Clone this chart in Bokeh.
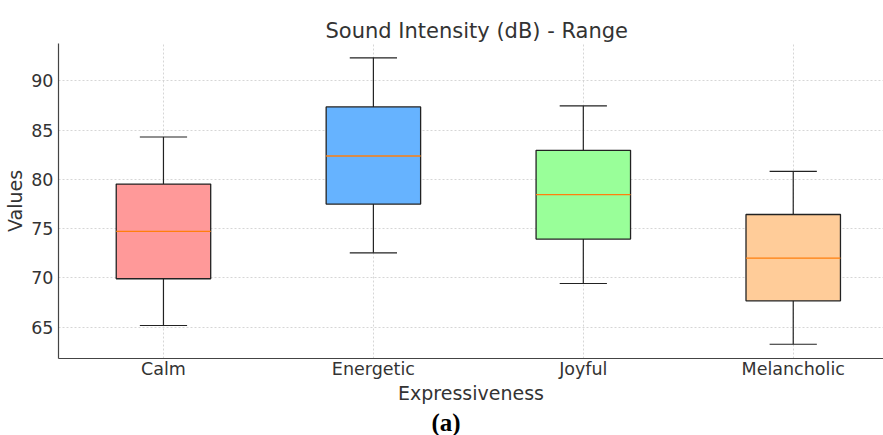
from bokeh.plotting import figure
from bokeh.models import Range1d, FixedTicker, Title, ColumnDataSource
from bokeh.embed import file_html
from bokeh.resources import INLINE

# ---- data ----
categories = ["Calm", "Energetic", "Joyful", "Melancholic"]
lower = [65.15, 72.54, 69.42, 63.25]
q1 = [69.90, 77.49, 73.93, 67.66]
median = [74.71, 82.37, 78.44, 72.00]
q3 = [79.52, 87.36, 82.95, 76.43]
upper = [84.30, 92.34, 87.46, 80.81]
colors = ["#ff9999", "#66b3ff", "#99ff99", "#ffcc99"]
y_ticks = [65, 70, 75, 80, 85, 90]

positions = list(range(1, len(categories) + 1))
box_w = 0.45
cap_w = box_w / 2

src = ColumnDataSource(dict(
    x=positions, lower=lower, q1=q1, median=median, q3=q3, upper=upper,
    color=colors,
    xl=[x - box_w / 2 for x in positions], xr=[x + box_w / 2 for x in positions],
    cl=[x - cap_w / 2 for x in positions], cr=[x + cap_w / 2 for x in positions],
))

FONT = "DejaVu Sans"
TXT = "#333333"

p = figure(width=883, height=435,
           x_range=Range1d(0.5, 4.43), y_range=Range1d(61.8, 93.8),
           output_backend="svg", toolbar_location=None,
           min_border_left=58, min_border_right=0,
           min_border_top=43, min_border_bottom=77,
           title="Sound Intensity (dB) - Range")
p.outline_line_color = None
p.background_fill_color = "white"

# title
p.title.text_font = FONT
p.title.text_font_size = "21px"
p.title.text_font_style = "normal"
p.title.text_color = TXT
p.title.align = "left"
p.title.offset = 267
p.title.standoff = 2

# grid
for g in (p.xgrid, p.ygrid):
    g.grid_line_color = "#cccccc"
    g.grid_line_dash = "2 2"
    g.grid_line_width = 0.8
p.xgrid.ticker = FixedTicker(ticks=positions)
p.ygrid.ticker = FixedTicker(ticks=y_ticks)

# axes
p.xaxis.ticker = FixedTicker(ticks=positions)
p.xaxis.major_label_overrides = {x: c for x, c in zip(positions, categories)}
p.yaxis.ticker = FixedTicker(ticks=y_ticks)
p.xaxis.axis_label = "Expressiveness"
p.yaxis.axis_label = "Values"
for ax in (p.xaxis[0], p.yaxis[0]):
    ax.axis_line_color = "#444444"
    ax.axis_line_width = 1.2
    ax.major_tick_line_color = None
    ax.major_tick_out = 0
    ax.major_tick_in = 0
    ax.minor_tick_line_color = None
    ax.minor_tick_out = 0
    ax.minor_tick_in = 0
    ax.major_label_text_font = FONT
    ax.major_label_text_font_size = "17.5px"
    ax.major_label_text_color = TXT
    ax.axis_label_text_font = FONT
    ax.axis_label_text_font_size = "19px"
    ax.axis_label_text_font_style = "normal"
    ax.axis_label_text_color = TXT
p.xaxis.major_label_standoff = 0
p.xaxis.axis_label_standoff = 0
p.yaxis.major_label_standoff = 5
p.yaxis.axis_label_standoff = 2

# whiskers
p.segment(x0="x", y0="q3", x1="x", y1="upper", source=src, line_color="#222222", line_width=1.2)
p.segment(x0="x", y0="q1", x1="x", y1="lower", source=src, line_color="#222222", line_width=1.2)
p.segment(x0="cl", y0="upper", x1="cr", y1="upper", source=src, line_color="#222222", line_width=1.2)
p.segment(x0="cl", y0="lower", x1="cr", y1="lower", source=src, line_color="#222222", line_width=1.2)

# boxes
p.vbar(x="x", width=box_w, top="q3", bottom="q1", source=src,
       fill_color="color", line_color="#222222", line_width=1.3)
# medians
p.segment(x0="xl", y0="median", x1="xr", y1="median", source=src,
          line_color="#ff7f0e", line_width=1.3)

# caption below the axis
cap = Title(text="(a)", text_font="Liberation Serif", text_font_style="bold",
            text_font_size="25px", text_color="black",
            align="left", offset=373, standoff=0, vertical_align="bottom")
p.add_layout(cap, "below")

open("out.html", "w").write(file_html(p, INLINE))
